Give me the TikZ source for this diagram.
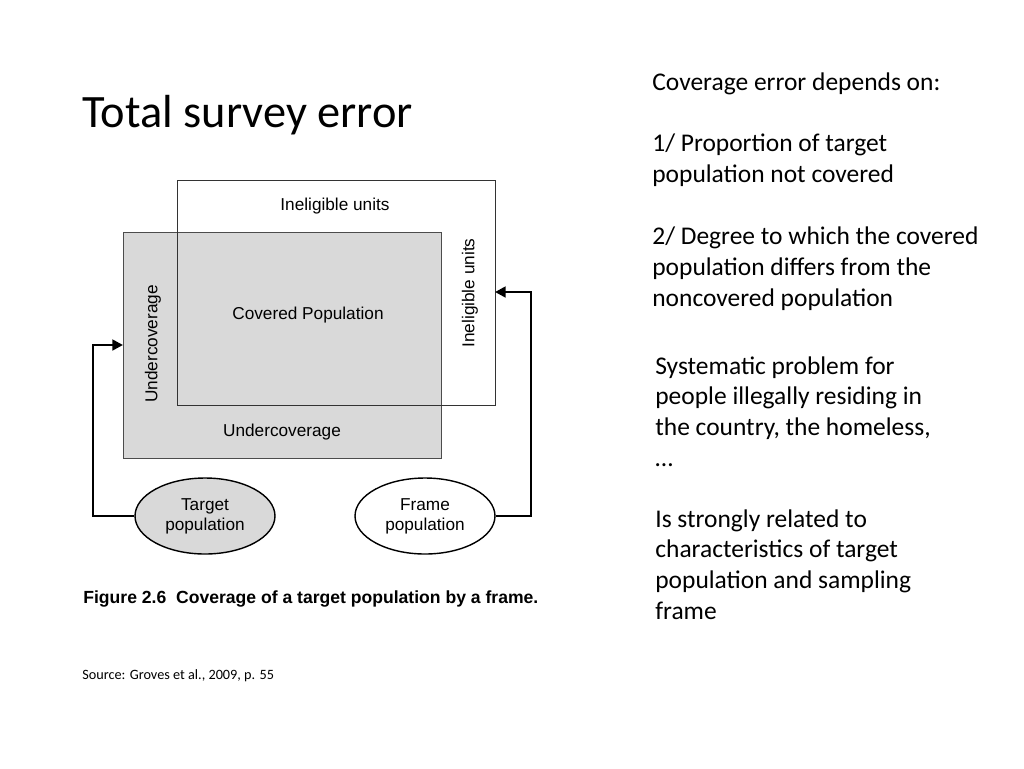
\documentclass[tikz,border=0pt]{standalone}
\usepackage{fontspec}
\setmainfont{Carlito}
\newfontfamily\figfont{Liberation Sans}
\usetikzlibrary{shapes.geometric, arrows.meta, positioning}

\begin{document}
\begin{tikzpicture}[x=0.02cm, y=-0.02cm]
    \tikzstyle{slidetext} = [anchor=north west, align=left, inner sep=0pt, font=\fontsize{14.5}{17.6}\selectfont]
    \tikzstyle{figtext} = [font=\figfont\fontsize{9.8}{11.5}\selectfont, inner sep=1pt]
    \tikzstyle{pop} = [ellipse, draw=black, thick, minimum width=2.8cm, minimum height=1.52cm, align=center, figtext]
    \tikzstyle{arrow} = [line width=1.6pt, -{Triangle[length=6pt, width=6pt]}]

    \useasboundingbox (0,0) rectangle (1024,768);

    % Slide text
    \node (title) [anchor=west, inner sep=0pt, font=\fontsize{26.4}{30}\selectfont] at (82,115) {Total survey error};
    \node (depends) [slidetext] at (652,72) {Coverage error depends on:\\[17.6pt]
        1/ Proportion of target\\population not covered\\[17.6pt]
        2/ Degree to which the covered\\population differs from the\\noncovered population};
    \node (problem) [slidetext] at (655,356) {Systematic problem for\\people illegally residing in\\the country, the homeless,\\\dots};
    \node (related) [slidetext] at (655,509) {Is strongly related to\\characteristics of target\\population and sampling\\frame};
    \node (source) [anchor=west, inner sep=0pt, font=\fontsize{8.1}{10}\selectfont] at (82,676) {Source: Groves et al., 2009, p. 55};

    % Figure
    \draw [fill=gray!30, draw=black!70] (123,232) rectangle (441,458);
    \draw [black!80] (177,180) rectangle (495,405);
    \node (inelTop) [figtext] at (335,206) {Ineligible units};
    \node (inelRight) [figtext, rotate=90] at (470,293) {Ineligible units};
    \node (covered) [figtext] at (308,315) {Covered Population};
    \node (underLeft) [figtext, rotate=90] at (153,344) {Undercoverage};
    \node (underBottom) [figtext] at (282,432) {Undercoverage};
    \coordinate (targetIn) at (123,345);
    \coordinate (frameIn) at (495,292);

    \node (target) [pop, fill=gray!30] at (205,516) {Target\\population};
    \node (frame) [pop, fill=white] at (425,516) {Frame\\population};

    % Arrows
    \draw [arrow] (target.west) -- (93,516) |- (targetIn);
    \draw [arrow] (frame.east) -- (531,516) |- (frameIn);

    \node (caption) [anchor=west, inner sep=0pt, font=\figfont\bfseries\fontsize{10}{12}\selectfont] at (83,599) {Figure 2.6\ \ Coverage of a target population by a frame.};
\end{tikzpicture}
\end{document}
